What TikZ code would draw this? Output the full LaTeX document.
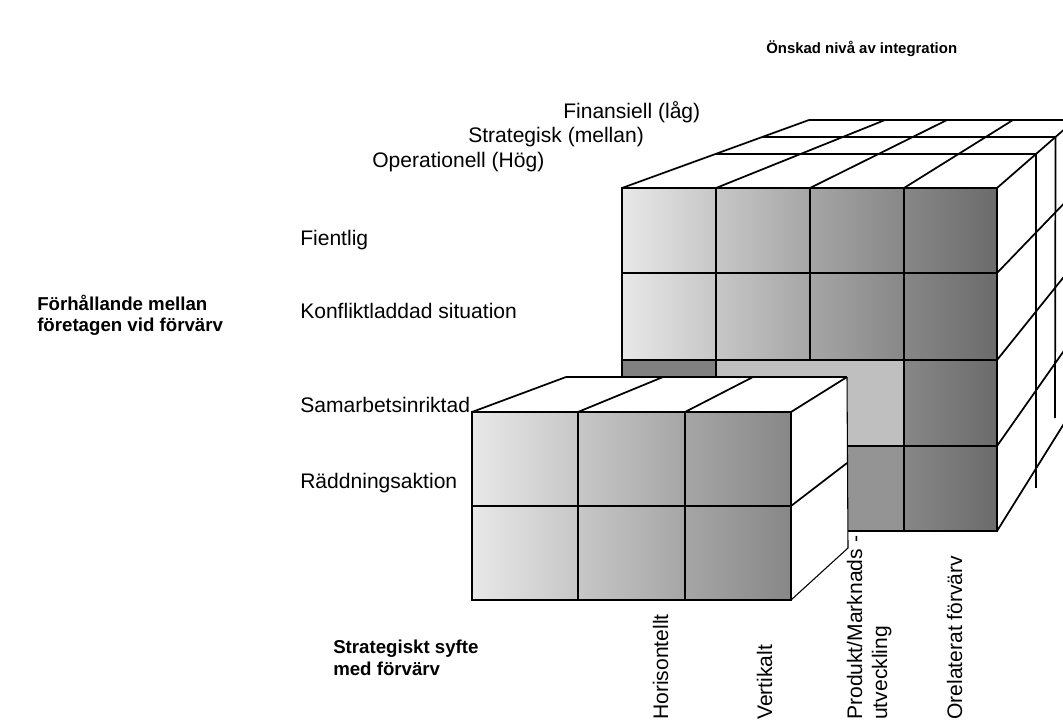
\documentclass[tikz,border=0pt]{standalone}
\usepackage{tikz}
\usepackage{xcolor}
\usepackage{fontspec}
\setmainfont{Liberation Sans}
\usetikzlibrary{calc}

\tikzset{
  edge/.style={black, line width=1.3pt, line join=miter},
  thinedge/.style={black, line width=0.8pt},
  lbl/.style={font=\fontsize{15.8}{18}\selectfont, inner sep=0pt, anchor=base west},
  head/.style={font=\bfseries\fontsize{14}{17}\selectfont, inner sep=0pt, anchor=base west},
  vlbl/.style={lbl, rotate=90},
}

\begin{document}
\begin{tikzpicture}[x=0.75pt,y=-0.75pt]

\useasboundingbox (0,0) rectangle (1063,724);
\clip (0,0) rectangle (1063,724);

% Big cube corners
\coordinate (ftl) at (622,188);
\coordinate (ftr) at (997,188);
\coordinate (btl) at (809,120);
\coordinate (btr) at (1075,120);

% Big cube front face
\foreach \xa/\xb/\ca/\cb in {622/716/9/22, 716/810/22/35, 810/904/35/47}
  \fill[left color=black!\ca, right color=black!\cb] (\xa,188) rectangle (\xb,360);
\fill[left color=black!47, right color=black!58] (904,188) rectangle (997,531);
\fill[black!50] (622,360) rectangle (716,446);
\fill[black!25] (716,360) rectangle (904,446);
\fill[black!42] (622,446) rectangle (904,531);

\draw[edge] (ftl) rectangle (997,531);
\foreach \y in {273,360,446}
  \draw[edge] (622,\y) -- (997,\y);
\draw[edge] (716,188) -- (716,446);
\draw[edge] (810,188) -- (810,360);
\draw[edge] (904,188) -- (904,446);
\draw[thinedge] (904,446) -- (904,531);

% Big cube top face
\foreach \fx/\bx in {622/809, 716/885, 810/947, 904/1013, 997/1075}
  \draw[edge] (\fx,188) -- (\bx,120);
\draw[edge] ($(ftl)!0.5!(btl)$) -- ($(ftr)!0.5!(btr)$);
\draw[edge] ($(ftl)!0.75!(btl)$) -- ($(ftr)!0.75!(btr)$);
\draw[edge] (btl) -- (btr);

% Big cube right face
\draw[edge] ($(ftr)!0.5!(btr)$) -- (1036,488);
\draw[edge] ($(ftr)!0.75!(btr)$) -- (1055,418);
\foreach \y/\e in {273/192, 360/263, 446/335, 531/406}
  \draw[edge] (997,\y) -- (1075,\e);

% Small cube top and right face
\fill[white] (472,412) -- (566,377) -- (847,377) -- (791,412) -- cycle;
\fill[white] (791,412) -- (847,377) -- (848,548) -- (791,600) -- cycle;

% Small cube front face
\foreach \xa/\xb/\ca/\cb in {472/578/9/22, 578/685/22/35, 685/791/35/47}
  \fill[left color=black!\ca, right color=black!\cb] (\xa,412) rectangle (\xb,600);

% Small cube outlines
\draw[edge] (472,412) rectangle (791,600);
\draw[edge] (472,506) -- (791,506);
\draw[edge] (578,412) -- (578,600);
\draw[edge] (685,412) -- (685,600);
\foreach \fx/\bx in {472/566, 578/663, 685/753, 791/847}
  \draw[edge] (\fx,412) -- (\bx,377);
\draw[edge] (566,377) -- (847,377);
\draw[thinedge] (847,377) -- (848,548) -- (791,600);
\draw[edge] (791,506) -- (847,463);

% Labels
\node[head, font=\bfseries\fontsize{11.2}{14}\selectfont] (title) at (766,54) {Önskad nivå av integration};

\node[lbl] (finans) at (563,118) {Finansiell (låg)};
\node[lbl] (strat) at (468,142) {Strategisk (mellan)};
\node[lbl] (oper) at (372,167) {Operationell (Hög)};

\node[lbl] (fient) at (300,245) {Fientlig};
\node[lbl] (konfl) at (300,318) {Konfliktladdad situation};
\node[lbl] (samarb) at (300,412) {Samarbetsinriktad};
\node[lbl] (raddn) at (300,488) {Räddningsaktion};

\node[head] (forh1) at (37,310) {Förhållande mellan};
\node[head] (forh2) at (37,331) {företagen vid förvärv};

\node[head] (syfte1) at (333,653) {Strategiskt syfte};
\node[head] (syfte2) at (333,675) {med förvärv};

\node[vlbl] (horis) at (668,720) {Horisontellt};
\node[vlbl] (vert) at (772,720) {Vertikalt};
\node[vlbl] (prod1) at (862,720) {Produkt/Marknads -};
\node[vlbl] (prod2) at (887,720) {utveckling};
\node[vlbl] (orel) at (962,720) {Orelaterat förvärv};

\end{tikzpicture}
\end{document}
